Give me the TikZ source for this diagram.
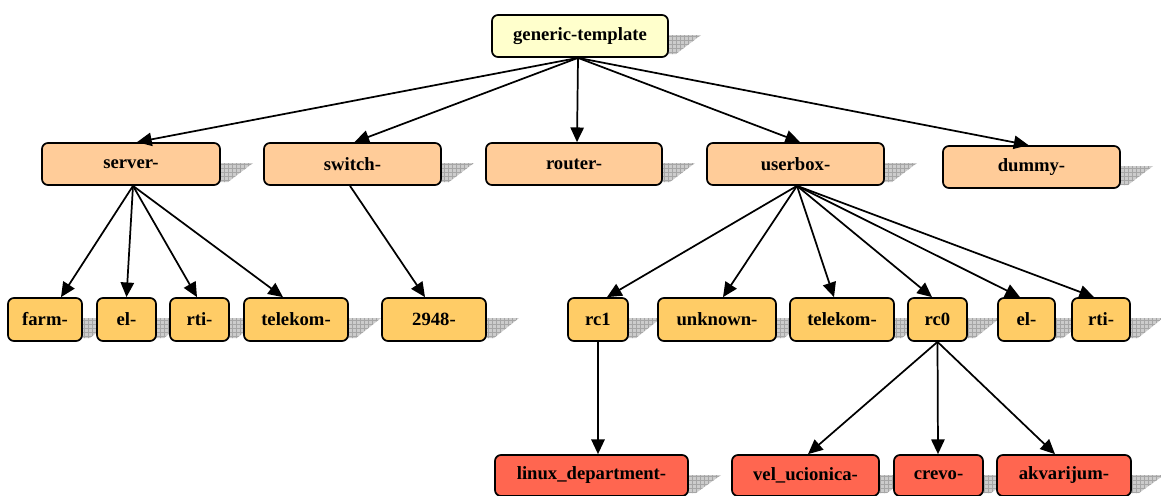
\documentclass[tikz,border=0pt]{standalone}
\usepackage{fontspec}
\setmainfont{Liberation Serif}
\usetikzlibrary{arrows.meta,patterns,calc}
\definecolor{lvzero}{HTML}{FFFFCC}
\definecolor{lvone}{HTML}{FFCC99}
\definecolor{lvtwo}{HTML}{FFCC66}
\definecolor{lvthree}{HTML}{FF6650}
\tikzset{
  box/.style={draw=black, line width=1.3pt, rounded corners=4.5pt, inner sep=0pt,
    font=\bfseries\fontsize{14}{16}\selectfont},
  arr/.style={line width=1.3pt, -{Triangle[length=11pt,width=10pt]}},
  shadowst/.style={fill=gray!40},
  shadowpat/.style={pattern=grid, pattern color=gray!70}
}
% name, cx, cy, w, h, text, fill
\newcommand\bxnode[7]{%
  \fill[shadowst] (#2+#4/2-6, #3-#5/2+20) -- (#2+#4/2+33, #3-#5/2+20) -- (#2+#4/2+8, #3+#5/2-3) -- (#2+#4/2-6, #3+#5/2-3) -- cycle;
  \path[shadowpat] (#2+#4/2-6, #3-#5/2+20) -- (#2+#4/2+33, #3-#5/2+20) -- (#2+#4/2+8, #3+#5/2-3) -- (#2+#4/2-6, #3+#5/2-3) -- cycle;
  \node[box, fill=#7, minimum width=#4*0.75pt, minimum height=#5*0.75pt] (#1) at (#2,#3) {#6};}
\begin{document}
\begin{tikzpicture}[x=0.75pt, y=-0.75pt]
\useasboundingbox (0,0) rectangle (1161,496);
% level 0
\bxnode{gt}{580}{36}{176}{42}{generic-template}{lvzero}
% level 1
\bxnode{server}{131}{164}{178}{42}{server-}{lvone}
\bxnode{switch}{352.5}{164}{177}{42}{switch-}{lvone}
\bxnode{router}{574}{164}{176}{42}{router-}{lvone}
\bxnode{userbox}{795.5}{164}{177}{42}{userbox-}{lvone}
\bxnode{dummy}{1031.5}{167}{177}{42}{dummy-}{lvone}
% level 2
\bxnode{farm}{45}{319.5}{74}{43}{farm-}{lvtwo}
\bxnode{elA}{126.5}{319.5}{59}{43}{el-}{lvtwo}
\bxnode{rtiA}{199.5}{319.5}{59}{43}{rti-}{lvtwo}
\bxnode{telekomA}{296}{319.5}{104}{43}{telekom-}{lvtwo}
\bxnode{ntwo}{434}{319.5}{104}{43}{2948-}{lvtwo}
\bxnode{rcone}{598}{319.5}{60}{43}{rc1}{lvtwo}
\bxnode{unknown}{717}{319.5}{118}{43}{unknown-}{lvtwo}
\bxnode{telekomB}{842}{319.5}{104}{43}{telekom-}{lvtwo}
\bxnode{rczero}{937.5}{319.5}{59}{43}{rc0}{lvtwo}
\bxnode{elB}{1026.5}{319.5}{57}{43}{el-}{lvtwo}
\bxnode{rtiB}{1101}{319.5}{58}{43}{rti-}{lvtwo}
% level 3
\bxnode{linux}{591.5}{475.5}{193}{41}{linux\_department-}{lvthree}
\bxnode{vel}{805.5}{475.5}{147}{41}{vel\_ucionica-}{lvthree}
\bxnode{crevo}{938.5}{475.5}{89}{41}{crevo-}{lvthree}
\bxnode{akv}{1064}{475.5}{134}{41}{akvarijum-}{lvthree}
% source points
\coordinate (gtS) at ($(gt.south)+(-2,0)$);
\coordinate (serverS) at ($(server.south)+(2,0)$);
\coordinate (switchS) at ($(switch.south)+(-2.5,0)$);
\coordinate (userboxS) at ($(userbox.south)+(1.5,0)$);
\coordinate (rconeS) at (rcone.south);
\coordinate (rczeroS) at (rczero.south);
% connectors
\draw[arr] (gtS) -- ($(server.north)+(6,0)$);
\draw[arr] (gtS) -- ($(switch.north)+(2,0)$);
\draw[arr] (gtS) -- ($(router.north)+(3,0)$);
\draw[arr] (gtS) -- ($(userbox.north)+(4.5,0)$);
\draw[arr] (gtS) -- ($(dummy.north)+(-3,0)$);
\draw[arr] (serverS) -- ($(farm.north)+(16,0)$);
\draw[arr] (serverS) -- ($(elA.north)+(0,0)$);
\draw[arr] (serverS) -- ($(rtiA.north)+(-2.5,0)$);
\draw[arr] (serverS) -- ($(telekomA.north)+(-13,0)$);
\draw[arr] (switchS) -- ($(ntwo.north)+(-9,0)$);
\draw[arr] (userboxS) -- ($(rcone.north)+(9,0)$);
\draw[arr] (userboxS) -- ($(unknown.north)+(6,0)$);
\draw[arr] (userboxS) -- ($(telekomB.north)+(-8,0)$);
\draw[arr] (userboxS) -- ($(rczero.north)+(-5.5,0)$);
\draw[arr] (userboxS) -- ($(elB.north)+(-6.5,0)$);
\draw[arr] (userboxS) -- ($(rtiB.north)+(-7,0)$);
\draw[arr] (rconeS) -- ($(linux.north)+(6.5,0)$);
\draw[arr] (rczeroS) -- ($(vel.north)+(2.5,0)$);
\draw[arr] (rczeroS) -- ($(crevo.north)+(-0.5,0)$);
\draw[arr] (rczeroS) -- ($(akv.north)+(-9,0)$);
\end{tikzpicture}
\end{document}
